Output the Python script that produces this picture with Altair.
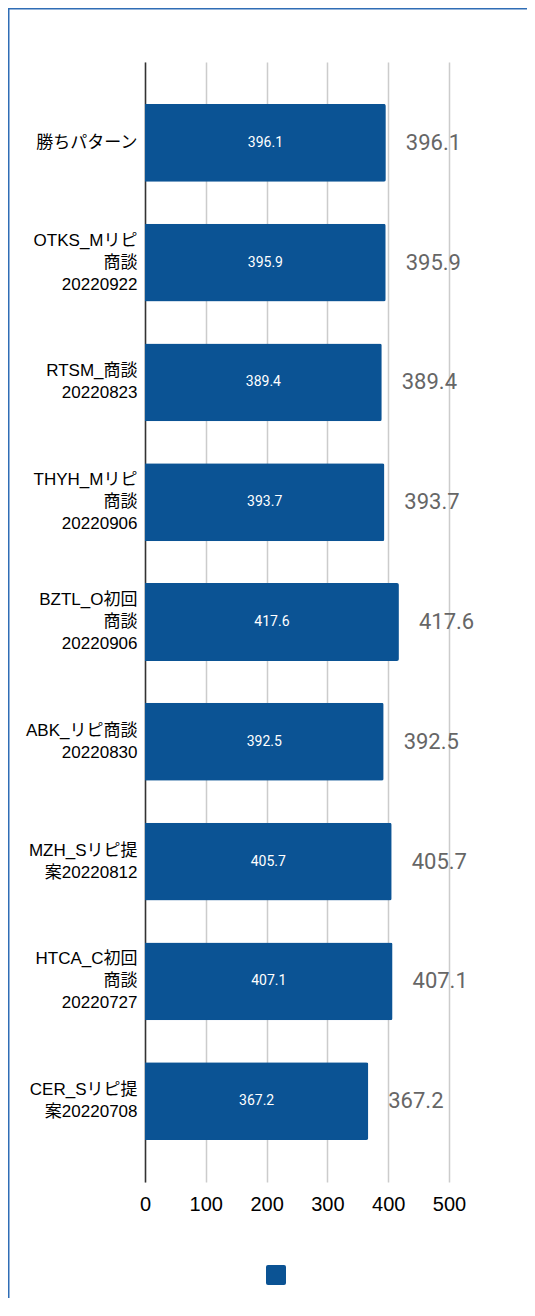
import altair as alt
import pandas as pd

categories = [
    "勝ちパターン",
    "OTKS_Mリピ\n商談\n20220922",
    "RTSM_商談\n20220823",
    "THYH_Mリピ\n商談\n20220906",
    "BZTL_O初回\n商談\n20220906",
    "ABK_リピ商談\n20220830",
    "MZH_Sリピ提\n案20220812",
    "HTCA_C初回\n商談\n20220727",
    "CER_Sリピ提\n案20220708",
]
values = [396.1, 395.9, 389.4, 393.7, 417.6, 392.5, 405.7, 407.1, 367.2]
x_ticks = [0, 100, 200, 300, 400, 500]
series_name = [""] * len(categories)

df = pd.DataFrame({"cat": categories, "value": values, "series": series_name})

BAR = "#0b5394"
BORDER = "#2f6db5"
LABEL_FONT = "Liberation Sans, Arial, Noto Sans CJK JP"
NUM_FONT = "Roboto, Noto Sans"

rounded_square = "M-0.8,-1L0.8,-1Q1,-1 1,-0.8L1,0.8Q1,1 0.8,1L-0.8,1Q-1,1 -1,0.8L-1,-0.8Q-1,-1 -0.8,-1Z"

nlines = "length(split(datum.label, '\\n'))"

y_enc = alt.Y(
    "cat:N",
    sort=categories,
    scale=alt.Scale(paddingInner=0.35, paddingOuter=0.35),
    axis=alt.Axis(
        title=None,
        labelExpr="split(datum.label, '\\n')",
        labelFont=LABEL_FONT,
        labelFontSize=17,
        labelLineHeight=22,
        labelColor="#000000",
        labelPadding=8,
        ticks=False,
        domain=True,
        domainColor="#333333",
        domainWidth=1.5,
        grid=False,
        labelLimit=200,
        labelOffset={
            "condition": [
                {"test": f"{nlines} == 3", "value": -22},
                {"test": f"{nlines} == 2", "value": -11},
            ],
            "value": 0,
        },
    ),
)

base = alt.Chart(df).encode(y=y_enc)

bars = base.mark_bar(cornerRadiusEnd=2).encode(
    x=alt.X(
        "value:Q",
        scale=alt.Scale(domain=[0, 500], nice=False),
        axis=alt.Axis(
            title=None,
            values=x_ticks,
            labelFont="Liberation Sans, Arial",
            labelFontSize=20,
            labelColor="#000000",
            labelPadding=12,
            labelFlush=False,
            ticks=False,
            domain=False,
            grid=True,
            gridColor="#cccccc",
            gridWidth=1.5,
        ),
    ),
    color=alt.Color(
        "series:N",
        scale=alt.Scale(range=[BAR]),
        legend=alt.Legend(
            title=None,
            orient="none",
            legendX=121,
            legendY=1203,
            symbolType=rounded_square,
            symbolSize=400,
            symbolStrokeWidth=0,
            labelExpr="''",
            labelFontSize=1,
        ),
    ),
)

inner = base.transform_calculate(half="datum.value / 2").mark_text(
    color="white", font=NUM_FONT, fontSize=14, baseline="middle", align="center"
).encode(x=alt.X("half:Q"), text=alt.Text("value:Q", format=".1f"))

outer = base.mark_text(
    color="#666666", font=NUM_FONT, fontSize=22, baseline="middle", align="left", dx=20
).encode(x=alt.X("value:Q"), text=alt.Text("value:Q", format=".1f"))

frame_df = pd.DataFrame({"b": [0]})
border_left = alt.Chart(frame_df).mark_rule(color=BORDER, strokeWidth=1.5).encode(
    x=alt.value(-136.25), y=alt.value(-54), y2=alt.value(1300)
)
border_top = alt.Chart(frame_df).mark_rule(color=BORDER, strokeWidth=1.5).encode(
    y=alt.value(-53.25), x=alt.value(-137), x2=alt.value(382)
)

chart = alt.layer(border_left, border_top, bars, inner, outer).properties(
    width=304,
    height=1120,
    autosize=alt.AutoSizeParams(type="none"),
    padding={"left": 137, "top": 54, "right": 78, "bottom": 116},
).configure_view(stroke=None)

chart.save("out.html", embed_options={"renderer": "svg", "actions": False})
